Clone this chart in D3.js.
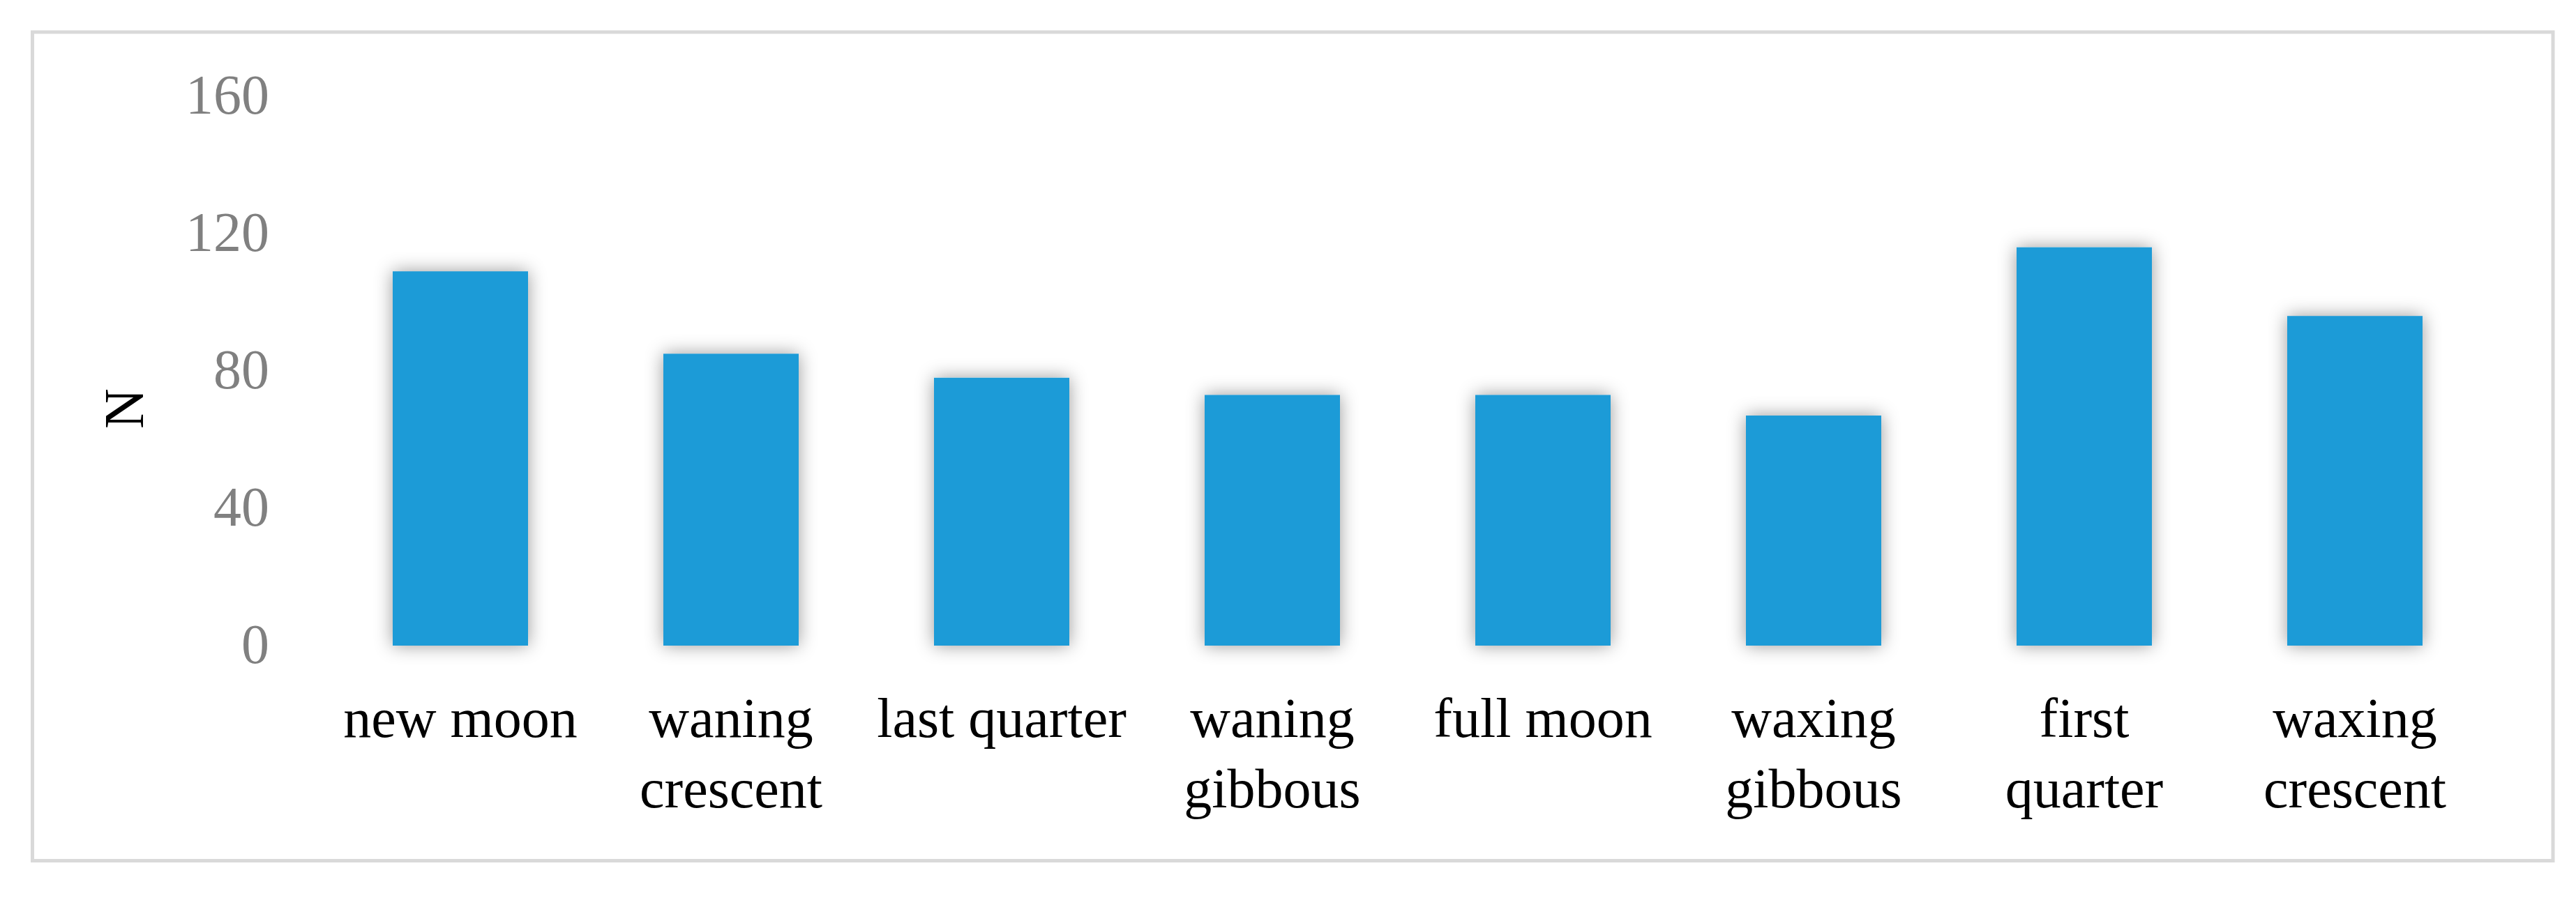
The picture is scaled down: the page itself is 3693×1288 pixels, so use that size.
<!DOCTYPE html>
<html>
<head>
<meta charset="utf-8">
<title>Moon phase bar chart</title>
<script src="https://cdn.jsdelivr.net/npm/d3@7"></script>
<style>
  body { margin: 0; background: #ffffff; }
  svg { display: block; }
  text { font-family: "Palatino Linotype", "Book Antiqua", Palatino, "Liberation Serif", serif; }
</style>
</head>
<body>
<script>
// moon phases on the x axis, each split into label lines
var phases = ["new moon", "waning crescent", "last quarter", "waning gibbous",
              "full moon", "waxing gibbous", "first quarter", "waxing crescent"];
var phaseLines = [["new moon"], ["waning", "crescent"], ["last quarter"], ["waning", "gibbous"],
                  ["full moon"], ["waxing", "gibbous"], ["first", "quarter"], ["waxing", "crescent"]];
// number of cases per phase
var counts = [109, 85, 78, 73, 73, 67, 116, 96];
// y axis ticks
var yTicks = [0, 40, 80, 120, 160];

// define width and height
var w = 3693;
var h = 1288;
var plot = {left: 466, right: 3570, top: 138, bottom: 926};

var svg = d3.select("body")
            .append("svg")
            .attr("width", w)
            .attr("height", h);

// shadows for bars and gridlines
var defs = svg.append("defs");
defs.append("filter")
    .attr("id", "barShadow")
    .attr("x", "-50%").attr("y", "-50%")
    .attr("width", "200%").attr("height", "200%")
    .append("feDropShadow")
    .attr("dx", 0).attr("dy", 0)
    .attr("stdDeviation", 13)
    .attr("flood-color", "#000")
    .attr("flood-opacity", 0.4);
defs.append("filter")
    .attr("id", "lineShadow")
    .attr("x", "-5%").attr("y", "-300%")
    .attr("width", "110%").attr("height", "700%")
    .append("feDropShadow")
    .attr("dx", 0).attr("dy", 2)
    .attr("stdDeviation", 2)
    .attr("flood-color", "#000")
    .attr("flood-opacity", 0.15);

// outer frame
svg.append("rect")
   .attr("x", 46.5)
   .attr("y", 46)
   .attr("width", 3660 - 46.5)
   .attr("height", 1234.5 - 46)
   .attr("fill", "none")
   .attr("stroke", "#d9d9d9")
   .attr("stroke-width", 5);

var xScale = d3.scaleBand()
               .domain(phases)
               .range([plot.left, plot.right])
               .paddingInner(0.5)
               .paddingOuter(0.25);

var yScale = d3.scaleLinear()
               .domain([0, 160])
               .range([plot.bottom, plot.top]);

// gridlines
svg.append("g")
   .attr("class", "grid")
   .selectAll("line")
   .data(yTicks)
   .enter()
   .append("line")
   .attr("x1", plot.left)
   .attr("x2", plot.right)
   .attr("y1", function(d) { return yScale(d); })
   .attr("y2", function(d) { return yScale(d); })
   .attr("stroke", "#d9d9d9")
   .attr("stroke-width", 5)
   .attr("filter", "url(#lineShadow)");

// y axis tick labels
var yAxis = svg.append("g")
               .attr("transform", "translate(" + plot.left + ",0)")
               .call(d3.axisLeft(yScale).tickValues(yTicks).tickSize(0).tickPadding(80));
yAxis.select(".domain").remove();
yAxis.selectAll("text")
     .attr("dy", "0.3em")
     .style("font-size", "80px")
     .style("font-family", null)
     .attr("fill", "#808080");

// draw the bars
svg.selectAll(".bar")
   .data(counts)
   .enter()
   .append("rect")
   .attr("class", "bar")
   .attr("x", function(d, i) { return xScale(phases[i]); })
   .attr("y", function(d) { return yScale(d); })
   .attr("width", xScale.bandwidth())
   .attr("height", function(d) { return yScale(0) - yScale(d); })
   .attr("fill", "#1e9bd7")
   .attr("filter", "url(#barShadow)");

// category labels, one or two lines
var labels = svg.selectAll(".label")
                .data(phaseLines)
                .enter()
                .append("text")
                .attr("class", "label")
                .attr("text-anchor", "middle")
                .attr("fill", "#000")
                .style("font-size", "80px")
                .attr("transform", function(d, i) {
                  return "translate(" + (xScale(phases[i]) + xScale.bandwidth() / 2) + ",1057)";
                });
labels.selectAll("tspan")
      .data(function(d) { return d; })
      .enter()
      .append("tspan")
      .attr("x", 0)
      .attr("y", function(d, i) { return i * 101; })
      .text(function(d) { return d; });

// y axis title
svg.append("text")
   .attr("transform", "translate(205,586) rotate(-90)")
   .attr("text-anchor", "middle")
   .attr("fill", "#000")
   .style("font-size", "80px")
   .text("N");
</script>
</body>
</html>
